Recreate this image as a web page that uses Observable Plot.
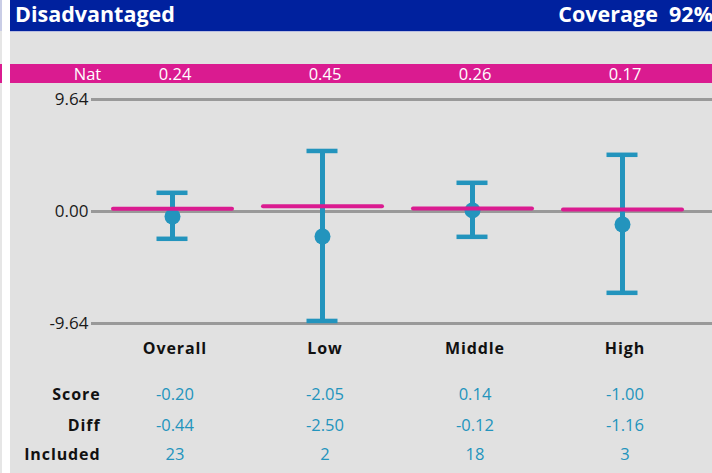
<!DOCTYPE html>
<html>
<head>
<meta charset="utf-8">
<script src="https://cdn.jsdelivr.net/npm/d3@7"></script>
<script src="https://cdn.jsdelivr.net/npm/@observablehq/plot@0.6"></script>
<style>
  body { margin: 0; background: #fff; font-family: "Open Sans", sans-serif; }
  #wrap { position: relative; width: 712px; height: 473px; overflow: hidden; background: #fff; }
  .abs { position: absolute; }
  #header { left: 10px; top: 0; width: 702px; height: 31px; background: #00219e; border-bottom: 1px solid #b9bde0; color: #fff; font-weight: 700; font-size: 21.5px; line-height: 28px; }
  #header .l { position: absolute; left: 5px; top: 0; }
  #header .r { position: absolute; right: -1px; top: 0; white-space: pre; }
  #panel { left: 10px; top: 32px; width: 702px; height: 441px; background: #e1e1e1; }
  #band { left: 10px; top: 64px; width: 702px; height: 19px; background: #da1b90; }
  #strip { left: 0; top: 0; width: 2px; height: 473px; background: #e6e6e6; }
  #stripTop { left: 0; top: 0; width: 2px; height: 31px; background: #c9cde6; }
  #stripPink { left: 0; top: 64px; width: 2px; height: 19px; background: #da1b90; }
  #grid, #chart { left: 0; top: 0; }
  #grid svg, #chart svg { display: block; }
  #chart g[font-weight="bold"] { letter-spacing: 0.9px; }
</style>
</head>
<body>
<div id="wrap">
  <div id="strip" class="abs"></div>
  <div id="stripTop" class="abs"></div>
  <div id="stripPink" class="abs"></div>
  <div id="header" class="abs"><span class="l">Disadvantaged</span><span class="r">Coverage  92%</span></div>
  <div id="panel" class="abs"></div>
  <div id="band" class="abs"></div>
  <div id="grid" class="abs"></div>
  <div id="chart" class="abs"></div>
</div>
<script>
const categories = ["Overall", "Low", "Middle", "High"];
const nat = [0.24, 0.45, 0.26, 0.17];
const score = [-0.20, -2.05, 0.14, -1.00];
const diff = [-0.44, -2.50, -0.12, -1.16];
const included = [23, 2, 18, 3];
const point = [-0.43, -2.15, 0.09, -1.12];
const ciLow = [-2.35, -9.42, -2.18, -7.00];
const ciHigh = [1.61, 5.21, 2.47, 4.88];
const yTicks = [-9.64, 0, 9.64];
const rowLabels = ["Score", "Diff", "Included"];

const blue = "#2394bd";
const pink = "#da1b90";
const rows = categories.map((c, i) => ({
  cat: c, nat: nat[i], score: score[i], diff: diff[i], included: included[i],
  point: point[i], lo: ciLow[i], hi: ciHigh[i]
}));
const f2 = v => v.toFixed(2);
const font = "Open Sans";
const boldStyle = { fill: "#111", fontSize: 16, fontWeight: "bold", lineAnchor: "middle" };
const valStyle = { fill: blue, fontSize: 16.5, lineAnchor: "middle" };
const common = {
  width: 712, height: 473,
  marginLeft: 91, marginRight: 0, marginTop: 99, marginBottom: 150,
  style: { background: "transparent", fontFamily: font, overflow: "visible" }
};

// gridlines and y tick labels
const grid = Plot.plot({
  ...common,
  x: { domain: [0, 1], axis: null },
  y: { domain: [-9.64, 9.64], axis: null },
  marks: [
    Plot.ruleY(yTicks, { y: d => d, x1: 0, x2: 1, stroke: "#999999", strokeWidth: 3 }),
    Plot.text(yTicks, { y: d => d, x: 0, dx: -3, text: f2, textAnchor: "end", lineAnchor: "middle", fontSize: 17, fill: "#1a1a1a" })
  ]
});
document.getElementById("grid").appendChild(grid);

const chart = Plot.plot({
  ...common,
  x: { type: "band", domain: categories, range: [97, 697], padding: 0, axis: null },
  y: { domain: [-9.64, 9.64], axis: null },
  marks: [
    Plot.ruleX(rows, { x: "cat", y1: "lo", y2: "hi", stroke: blue, strokeWidth: 5 }),
    Plot.tickY(rows, { x: "cat", y: "lo", stroke: blue, strokeWidth: 4.5, insetLeft: 59.5, insetRight: 59.5 }),
    Plot.tickY(rows, { x: "cat", y: "hi", stroke: blue, strokeWidth: 4.5, insetLeft: 59.5, insetRight: 59.5 }),
    Plot.dot(rows, { x: "cat", y: "point", r: 8, fill: blue }),
    Plot.tickY(rows, { x: "cat", y: "nat", stroke: pink, strokeWidth: 4, insetLeft: 16, insetRight: 15, strokeLinecap: "round" }),
    // Nat band
    Plot.text(["Nat"], { frameAnchor: "top-left", dx: -4, dy: -25, text: d => d, textAnchor: "middle", lineAnchor: "middle", fill: "#fff", fontSize: 16.5 }),
    Plot.text(rows, { x: "cat", frameAnchor: "top", dx: 2.5, dy: -25, text: d => f2(d.nat), lineAnchor: "middle", fill: "#fff", fontSize: 16.5 }),
    // category labels
    Plot.text(rows, { x: "cat", frameAnchor: "bottom", dx: 2.5, dy: 25.5, text: "cat", ...boldStyle }),
    // table rows
    Plot.text([rowLabels[0]], { frameAnchor: "bottom-left", dx: 9, dy: 71.5, text: d => d, textAnchor: "end", ...boldStyle }),
    Plot.text([rowLabels[1]], { frameAnchor: "bottom-left", dx: 9, dy: 102, text: d => d, textAnchor: "end", ...boldStyle }),
    Plot.text([rowLabels[2]], { frameAnchor: "bottom-left", dx: 9, dy: 131.5, text: d => d, textAnchor: "end", ...boldStyle }),
    Plot.text(rows, { x: "cat", frameAnchor: "bottom", dx: 2.5, dy: 71.5, text: d => f2(d.score), ...valStyle }),
    Plot.text(rows, { x: "cat", frameAnchor: "bottom", dx: 2.5, dy: 102, text: d => f2(d.diff), ...valStyle }),
    Plot.text(rows, { x: "cat", frameAnchor: "bottom", dx: 2.5, dy: 131.5, text: d => String(d.included), ...valStyle })
  ]
});
document.getElementById("chart").appendChild(chart);
</script>
</body>
</html>
